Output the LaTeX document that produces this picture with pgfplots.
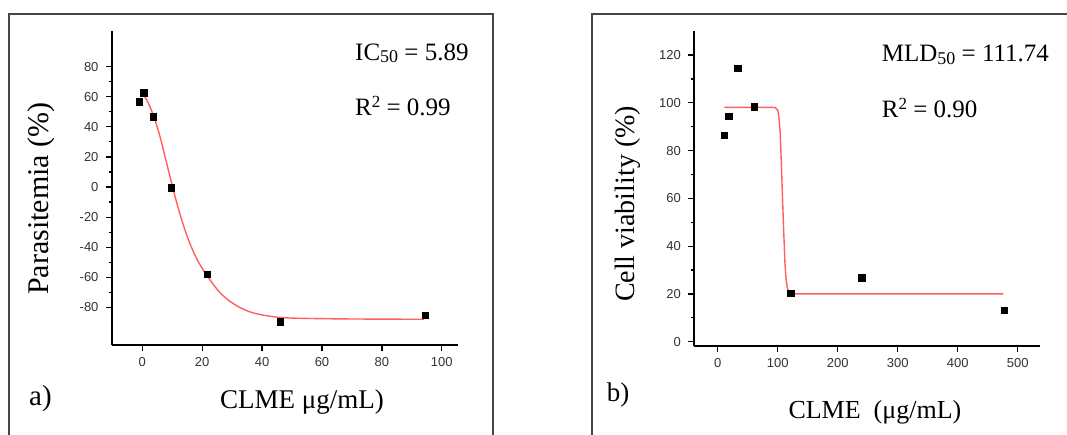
\documentclass[border=0pt]{standalone}
\usepackage{fontspec}
\setmainfont{Liberation Serif}
\newfontfamily\tickfont{Liberation Sans}
\usepackage{pgfplots}
\pgfplotsset{compat=1.18}
\definecolor{fitred}{RGB}{255,95,95}
\definecolor{framegray}{RGB}{70,70,70}
\begin{document}
\begin{tikzpicture}[x=1pt,y=1pt]
\useasboundingbox (0,0) rectangle (1067,-434);
\draw[line width=2pt, draw=framegray] (9,-440) -- (9,-14) -- (493,-14) -- (493,-440);
\draw[line width=2pt, draw=framegray] (592,-440) -- (592,-14) -- (1075,-14);
\pgfplotsset{myaxis/.style={scale only axis, axis x line*=bottom, axis y line*=left,
  axis line style={line width=1.7pt,-,black}, tick align=outside,
  tick style={line width=1.2pt, black}, major tick length=6pt, minor tick length=3.5pt,
  minor y tick num=1,
  ticklabel style={font=\tickfont\fontsize{13}{13}\selectfont, text=black!80},
  xticklabel style={yshift=-3pt}, yticklabel style={xshift=-4pt},
  /pgf/number format/assume math mode=true, clip=false, anchor=south west}}
% ---------- panel a
\begin{axis}[myaxis, at={(112pt,-345pt)}, width=346pt, height=314pt,
  xmin=-10.1, xmax=105.4, ymin=-105, ymax=103.7,
  xtick={0,20,...,100}, ytick={-80,-60,...,80}]
\addplot[fitred, line width=1.4pt, smooth, tension=0.5] coordinates {
(0,62.5) (2,56) (4,46) (6,33) (8,17) (10,1) (12,-14) (14,-27) (16,-38) (18,-47)
(20,-54) (22,-60) (25,-68) (28,-74) (32,-79.5) (36,-83) (40,-85) (45,-86.5)
(50,-87.1) (60,-87.5) (70,-87.7) (80,-87.8) (94,-87.9)};
\addplot[only marks, mark=square*, mark size=3.2pt, black] coordinates {
(-1,56.7) (0.5,62.7) (3.7,46.7) (9.6,-0.5) (21.7,-58) (46,-89.6) (94.4,-85.3)};
\end{axis}
% ---------- panel b
\begin{axis}[myaxis, at={(694.3pt,-345.7pt)}, width=345.7pt, height=315pt,
  xmin=-39, xmax=537, ymin=-1.67, ymax=130.2,
  xtick={0,100,...,500}, ytick={0,20,...,120}]
\addplot[fitred, line width=1.4pt] coordinates {
(11,98.1) (90,98.1) (96,98) (100,97) (102,94) (104,88) (106,75) (108,60) (110,46)
(112,33) (114,26) (116,22.5) (118,21) (122,20.2) (130,20) (476,20)};
\addplot[only marks, mark=square*, mark size=3.2pt, black] coordinates {
(11,86.5) (18.3,94.5) (33.3,114.4) (61,98.4) (121.7,20.3) (240,26.8) (477,13.3)};
\end{axis}
% ---------- texts
\def\sub#1{{\fontsize{18}{18}\selectfont\raisebox{-2.5pt}{#1}}}
\def\sup#1{{\fontsize{17}{17}\selectfont\raisebox{8pt}{#1}}}
\node[anchor=base west, inner sep=0, font=\fontsize{25}{25}\selectfont] at (355,-60) {IC\sub{50} = 5.89};
\node[anchor=base west, inner sep=0, font=\fontsize{25}{25}\selectfont] at (355,-115.7) {R\sup{2} = 0.99};
\node[anchor=base west, inner sep=0, font=\fontsize{25}{25}\selectfont] at (881.7,-61.7) {MLD\sub{50} = 111.74};
\node[anchor=base west, inner sep=0, font=\fontsize{25}{25}\selectfont] at (881.7,-117.3) {R\sup{2} = 0.90};
\node[rotate=90, inner sep=0, font=\fontsize{30}{30}\selectfont] at (41,-198.5) {Parasitemia (\%)};
\node[rotate=90, inner sep=0, font=\fontsize{28}{28}\selectfont] at (628,-204) {Cell viability (\%)};
\node[anchor=base west, inner sep=0, font=\fontsize{27}{27}\selectfont] at (220,-408.3) {CLME μg/mL)};
\node[anchor=base west, inner sep=0, font=\fontsize{26}{26}\selectfont] at (788.3,-418.3) {CLME \ (μg/mL)};
\node[anchor=base west, inner sep=0, font=\fontsize{29}{29}\selectfont] at (29,-405) {a)};
\node[anchor=base west, inner sep=0, font=\fontsize{27}{27}\selectfont] at (606.7,-401.7) {b)};
\end{tikzpicture}
\end{document}
